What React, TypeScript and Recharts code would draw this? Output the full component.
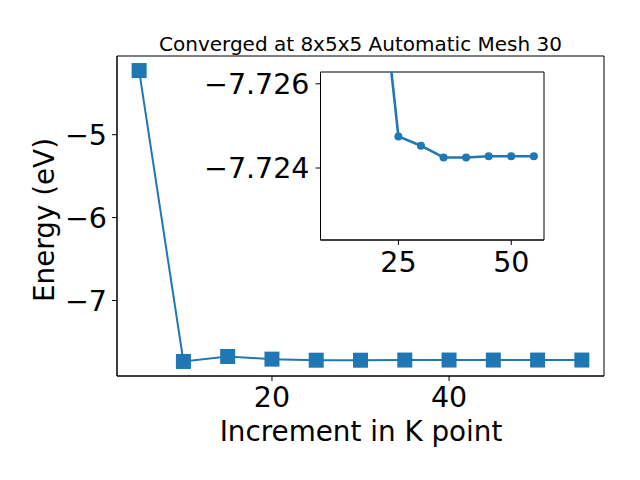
import { LineChart, Line, XAxis, YAxis, ReferenceArea } from 'recharts'

const kPoints = [5, 10, 15, 20, 25, 30, 35, 40, 45, 50, 55]
const energies = [-4.226, -7.735, -7.675, -7.707, -7.72, -7.72, -7.718, -7.718, -7.718, -7.718, -7.718]

// zoomed view
const insetK = [20, 25, 30, 35, 40, 45, 50, 55]
const insetEnergies = [-7.7297, -7.72475, -7.72453, -7.72425, -7.72425, -7.72428, -7.72428, -7.72428]

const xTicks = [20, 40]
const yTicks = [-7, -6, -5]
const insetXTicks = [25, 50]
const insetYTicks = [-7.726, -7.724]

const xLim = [2.5, 57.5]
const yLim = [-7.9105, -4.0506]
const insetXLim = [7.75, 57.25]
const insetYLim = [-7.72628, -7.72229]

const BLUE = '#1f77b4'
const FONT = 28.5

const mainData = kPoints.map((k, i) => ({ k, energy: energies[i] }))
const insetData = insetK.map((k, i) => ({ k, energy: insetEnergies[i] }))

const fmt = (v: number) => String(v).replace('-', '\u2212')

const SquareDot = (props: any) => {
  const { cx, cy, index } = props
  if (cx == null || cy == null) return null
  return <rect key={`sq-${index}`} x={cx - 7.5} y={cy - 7.5} width={15} height={15} fill={BLUE} />
}

export default function App() {
  return (
    <div style={{ position: 'absolute', left: 0, top: 0, width: 640, height: 480, background: '#fff', fontFamily: '"DejaVu Sans", sans-serif' }}>
      <div style={{ position: 'absolute', left: 0, top: 0 }}>
        <LineChart width={640} height={480} data={mainData} margin={{ top: 56, right: 36, bottom: 0, left: 0 }}>
          <ReferenceArea x1={xLim[0]} x2={xLim[1]} y1={yLim[0]} y2={yLim[1]} fill="none" stroke="#000" strokeWidth={1} fillOpacity={0} strokeOpacity={1} ifOverflow="visible" />
          <XAxis
            dataKey="k"
            type="number"
            domain={xLim}
            ticks={xTicks}
            allowDataOverflow
            height={104}
            stroke="#000"
            tickSize={5}
            tickMargin={6}
            tick={{ fill: '#000', fontSize: FONT }}
          />
          <YAxis
            type="number"
            domain={yLim}
            ticks={yTicks}
            allowDataOverflow
            width={117}
            stroke="#000"
            tickSize={5}
            tickMargin={5}
            tickFormatter={fmt}
            tick={{ fill: '#000', fontSize: FONT }}
          />
          <Line
            type="linear"
            dataKey="energy"
            stroke={BLUE}
            strokeWidth={2}
            dot={SquareDot}
            activeDot={false}
            isAnimationActive={false}
          />
        </LineChart>
      </div>

      <div style={{ position: 'absolute', left: 0, top: 0 }}>
        <LineChart width={640} height={480} data={insetData} margin={{ top: 72, right: 96, bottom: 0, left: 0 }}>
          <ReferenceArea x1={insetXLim[0]} x2={insetXLim[1]} y1={insetYLim[0]} y2={insetYLim[1]} fill="#fff" fillOpacity={1} stroke="#000" strokeWidth={1} strokeOpacity={1} ifOverflow="visible" />
          <XAxis
            dataKey="k"
            type="number"
            domain={insetXLim}
            ticks={insetXTicks}
            allowDataOverflow
            height={240}
            stroke="#000"
            tickSize={5}
            tickMargin={7}
            tick={{ fill: '#000', fontSize: FONT }}
          />
          <YAxis
            type="number"
            domain={insetYLim}
            reversed
            ticks={insetYTicks}
            allowDataOverflow
            width={320.5}
            stroke="#000"
            tickSize={5}
            tickMargin={6}
            tickFormatter={fmt}
            tick={{ fill: '#000', fontSize: FONT }}
          />
          <Line
            type="linear"
            dataKey="energy"
            stroke={BLUE}
            strokeWidth={2.6}
            dot={{ r: 4, fill: BLUE, stroke: BLUE, strokeWidth: 0 }}
            activeDot={false}
            isAnimationActive={false}
          />
        </LineChart>
      </div>

      <svg width={640} height={480} style={{ position: 'absolute', left: 0, top: 0, pointerEvents: 'none' }}>
        <text x={360.5} y={50.5} textAnchor="middle" fontSize={20} fill="#000">
          Converged at 8x5x5 Automatic Mesh 30
        </text>
        <text x={361} y={440.5} textAnchor="middle" fontSize={27.8} fill="#000">
          Increment in K point
        </text>
        <text x={54} y={220} textAnchor="middle" fontSize={27.8} fill="#000" transform="rotate(-90 54 220)">
          Energy (eV)
        </text>
      </svg>
    </div>
  )
}
